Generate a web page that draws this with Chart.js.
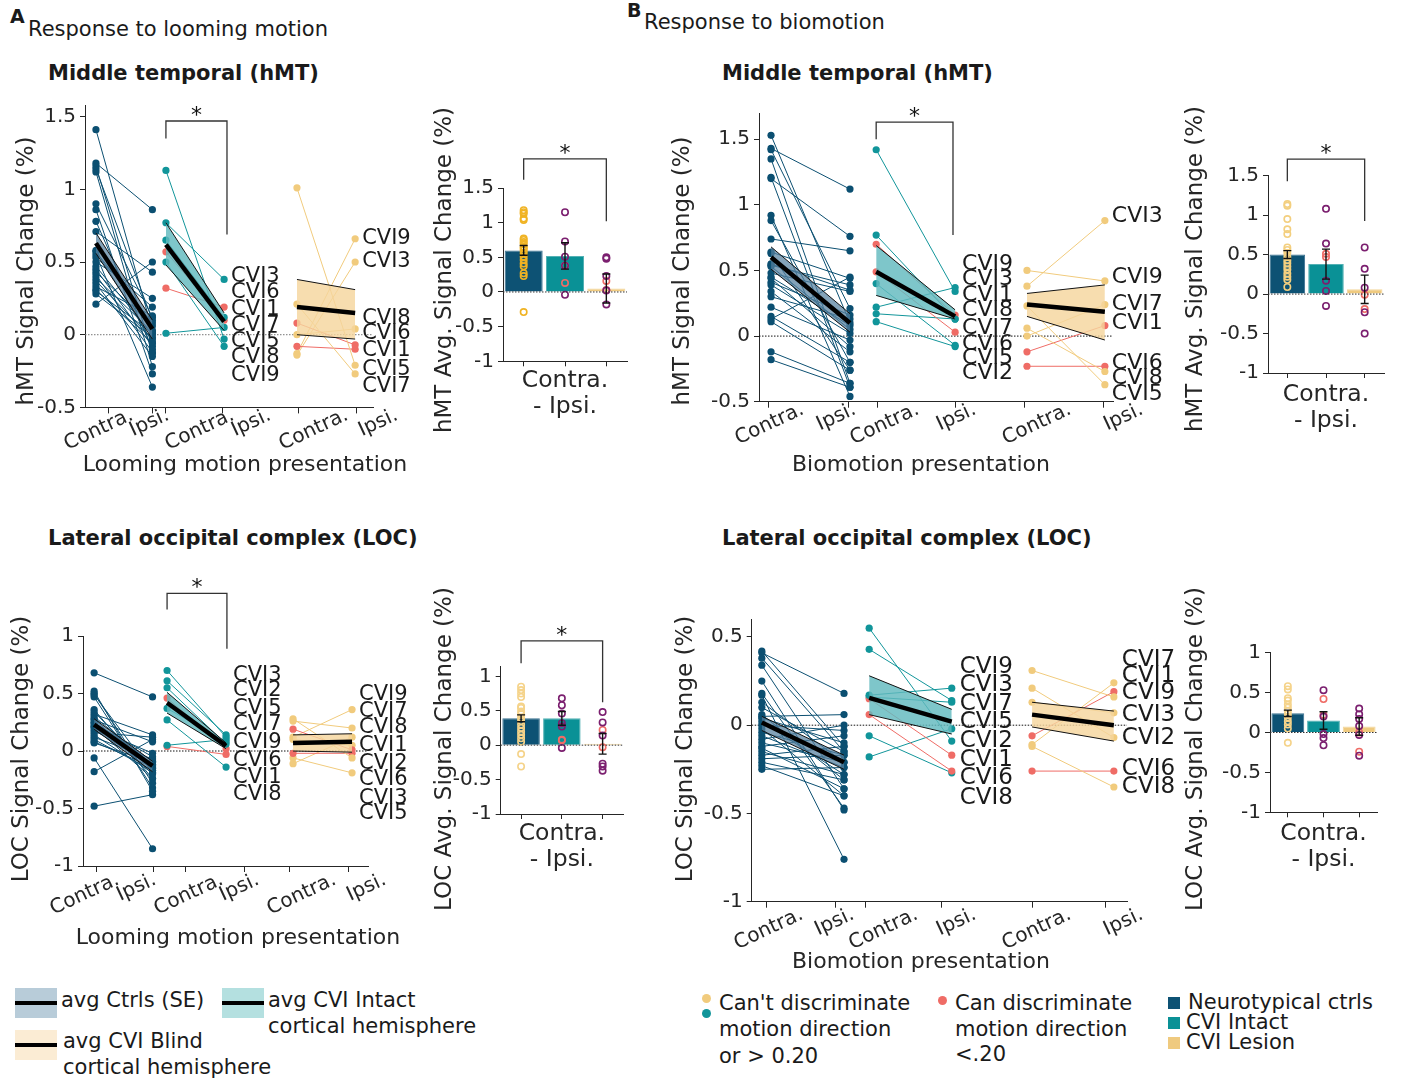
<!DOCTYPE html>
<html>
<head>
<meta charset="utf-8">
<script src="https://cdn.jsdelivr.net/npm/chart.js@4.4.1/dist/chart.umd.min.js"></script>
<style>
  body { margin:0; background:#fff; width:1402px; height:1081px; position:relative; overflow:hidden;
         font-family:'DejaVu Sans', Verdana, sans-serif; color:#1a1a1a; }
  .t { position:absolute; white-space:nowrap; line-height:1.2; transform:translateY(-50%); font-size:21px; }
  .b { font-weight:bold; }
  .sw { position:absolute; width:42px; height:30px; }
  .sw i { position:absolute; left:0; right:0; top:13px; height:4px; background:#000; }
  .dot { position:absolute; width:9px; height:9px; border-radius:50%; }
  .sq { position:absolute; width:12px; height:12px; }
  canvas { position:absolute; }
</style>
</head>
<body>
<div class="t b" style="left:10px;top:16px;font-size:19px">A</div>
<div class="t" style="left:28px;top:30px">Response to looming motion</div>
<div class="t b" style="left:627px;top:10px;font-size:19px">B</div>
<div class="t" style="left:644px;top:23px">Response to biomotion</div>
<div class="t b" style="left:48px;top:74px;font-size:21px">Middle temporal (hMT)</div>
<div class="t b" style="left:722px;top:74px;font-size:21px">Middle temporal (hMT)</div>
<div class="t b" style="left:48px;top:539px;font-size:21px">Lateral occipital complex (LOC)</div>
<div class="t b" style="left:722px;top:539px;font-size:21px">Lateral occipital complex (LOC)</div>

<div class="sw" style="left:15px;top:988px;background:#b8ccd9"><i></i></div>
<div class="t" style="left:61px;top:1001px">avg Ctrls (SE)</div>
<div class="sw" style="left:222px;top:988px;background:#b4e0e0"><i></i></div>
<div class="t" style="left:268px;top:1001px">avg CVI Intact</div>
<div class="t" style="left:268px;top:1027px">cortical hemisphere</div>
<div class="sw" style="left:15px;top:1030px;background:#fbecd4"><i></i></div>
<div class="t" style="left:63px;top:1042px">avg CVI Blind</div>
<div class="t" style="left:63px;top:1068px">cortical hemisphere</div>

<div class="dot" style="left:702px;top:994px;background:#f1cb7d"></div>
<div class="dot" style="left:702px;top:1009px;background:#11959a"></div>
<div class="t" style="left:719px;top:1004px">Can't discriminate</div>
<div class="t" style="left:719px;top:1030px">motion direction</div>
<div class="t" style="left:719px;top:1057px">or &gt; 0.20</div>
<div class="dot" style="left:938px;top:996px;background:#ef6c66"></div>
<div class="t" style="left:955px;top:1004px">Can discriminate</div>
<div class="t" style="left:955px;top:1030px">motion direction</div>
<div class="t" style="left:955px;top:1055px">&lt;.20</div>
<div class="sq" style="left:1168px;top:997px;background:#0d5274"></div>
<div class="t" style="left:1188px;top:1003px">Neurotypical ctrls</div>
<div class="sq" style="left:1168px;top:1017px;background:#0a9196"></div>
<div class="t" style="left:1186px;top:1023px">CVI Intact</div>
<div class="sq" style="left:1168px;top:1037px;background:#efca7f"></div>
<div class="t" style="left:1186px;top:1043px">CVI Lesion</div>

<script>
// ---------- A: looming motion, hMT ----------
var loomHmtCtrlContra = [1.41, 1.18, 1.16, 1.14, 1.12, 0.90, 0.86, 0.78, 0.71, 0.58, 0.57, 0.55, 0.53, 0.50, 0.47, 0.45, 0.43, 0.41, 0.39, 0.37, 0.35, 0.33, 0.31, 0.30, 0.28, 0.21];
var loomHmtCtrlIpsi   = [0.03, 0.86, -0.13, 0.10, -0.22, 0.12, -0.27, -0.10, 0.43, -0.05, 0.08, -0.36, 0.19, 0.25, 0.00, -0.08, 0.06, -0.12, 0.02, -0.03, -0.15, 0.13, -0.06, 0.01, -0.02, 0.50];
var loomHmtCtrlMean = [0.63, 0.04], loomHmtCtrlLo = [0.56, -0.03], loomHmtCtrlHi = [0.70, 0.10];
var loomHmtIntactContra = [1.13, 0.77, 0.65, 0.57, 0.50, 0.32, 0.01];
var loomHmtIntactIpsi   = [-0.03, 0.38, 0.12, 0.10, -0.08, 0.19, 0.05];
var loomHmtIntactDisc   = [0, 0, 0, 1, 0, 1, 0];
var loomHmtIntactMean = [0.62, 0.09], loomHmtIntactLo = [0.48, 0.03], loomHmtIntactHi = [0.77, 0.15];
var loomHmtBlindContra = [1.01, 0.21, 0.08, 0.00, -0.08, -0.13, -0.14];
var loomHmtBlindIpsi   = [-0.21, -0.27, -0.07, 0.04, -0.10, 0.66, 0.50];
var loomHmtBlindDisc   = [0, 0, 1, 0, 1, 0, 0];
var loomHmtBlindMean = [0.19, 0.15], loomHmtBlindLo = [0.00, -0.03], loomHmtBlindHi = [0.38, 0.31];
var loomHmtIntactNames = ['CVI3', 'CVI6', 'CVI1', 'CVI7', 'CVI5', 'CVI8', 'CVI9'];
var loomHmtIntactNameY = [0.40, 0.29, 0.17, 0.06, -0.05, -0.16, -0.28];
var loomHmtBlindNames = ['CVI9', 'CVI3', 'CVI8', 'CVI6', 'CVI1', 'CVI5', 'CVI7'];
var loomHmtBlindNameY = [0.66, 0.50, 0.11, 0.01, -0.11, -0.24, -0.36];

var loomHmtBarMeans = [0.60, 0.52, 0.05];
var loomHmtBarErr = [0.07, 0.19, 0.21];
var loomHmtBarCtrlPts = [1.18, 1.15, 1.13, 1.06, 1.04, 0.77, 0.75, 0.72, 0.70, 0.65, 0.63, 0.60, 0.56, 0.51, 0.46, 0.41, 0.37, 0.27, 0.23, -0.29];
var loomHmtBarIntactPts = [1.15, 0.73, 0.51, 0.38, -0.04];
var loomHmtBarIntactDiscPts = [0.38, 0.13];
var loomHmtBarLesionPts = [0.50, 0.48, 0.23, 0.02, -0.18];
var loomHmtBarLesionDiscPts = [0.16, 0.03];

// ---------- A: looming motion, LOC ----------
var loomLocCtrlContra = [0.68, 0.52, 0.50, 0.49, 0.47, 0.36, 0.34, 0.32, 0.30, 0.28, 0.27, 0.25, 0.24, 0.22, 0.21, 0.20, 0.18, 0.16, 0.14, 0.12, 0.10, 0.08, 0.07, -0.06, -0.18, -0.48];
var loomLocCtrlIpsi   = [0.47, -0.35, -0.28, -0.19, -0.32, -0.24, -0.17, 0.14, -0.12, -0.20, 0.08, -0.09, -0.05, -0.15, -0.24, -0.02, -0.12, 0.12, -0.19, -0.07, -0.17, -0.14, -0.10, -0.85, 0.10, -0.38];
var loomLocCtrlMean = [0.23, -0.13], loomLocCtrlLo = [0.19, -0.18], loomLocCtrlHi = [0.28, -0.09];
var loomLocIntactContra = [0.70, 0.61, 0.55, 0.46, 0.37, 0.27, 0.05, 0.04];
var loomLocIntactIpsi   = [0.12, 0.14, 0.06, 0.02, 0.08, -0.14, 0.10, -0.03];
var loomLocIntactDisc   = [0, 0, 0, 1, 0, 0, 0, 1];
var loomLocIntactMean = [0.42, 0.045], loomLocIntactLo = [0.33, 0.02], loomLocIntactHi = [0.51, 0.07];
var loomLocBlindContra = [0.28, 0.26, 0.19, 0.12, -0.02, -0.06, -0.11, 0.10];
var loomLocBlindIpsi   = [-0.06, 0.20, 0.01, 0.36, -0.02, -0.19, 0.12, 0.05];
var loomLocBlindDisc   = [0, 0, 1, 0, 1, 0, 0, 0];
var loomLocBlindMean = [0.07, 0.08], loomLocBlindLo = [0.00, -0.01], loomLocBlindHi = [0.14, 0.15];
var loomLocIntactNames = ['CVI3', 'CVI2', 'CVI5', 'CVI7', 'CVI9', 'CVI6', 'CVI1', 'CVI8'];
var loomLocIntactNameY = [0.66, 0.53, 0.37, 0.23, 0.07, -0.08, -0.23, -0.38];
var loomLocBlindNames = ['CVI9', 'CVI7', 'CVI8', 'CVI1', 'CVI2', 'CVI6', 'CVI3', 'CVI5'];
var loomLocBlindNameY = [0.49, 0.34, 0.20, 0.05, -0.11, -0.25, -0.41, -0.54];

var loomLocBarMeans = [0.39, 0.39, 0.02];
var loomLocBarErr = [0.05, 0.10, 0.15];
var loomLocBarCtrlPts = [0.85, 0.80, 0.75, 0.70, 0.56, 0.54, 0.49, 0.45, 0.40, 0.35, 0.30, 0.25, 0.20, 0.15, 0.10, 0.05, -0.13, -0.31];
var loomLocBarIntactPts = [0.68, 0.58, 0.46, 0.32, 0.27, -0.04];
var loomLocBarIntactDiscPts = [0.08, 0.07];
var loomLocBarLesionPts = [0.48, 0.33, 0.14, -0.27, -0.31, -0.37];
var loomLocBarLesionDiscPts = [0.22, -0.03];

// ---------- B: biomotion, hMT ----------
var bioHmtCtrlContra = [1.53, 1.43, 1.42, 1.35, 1.21, 1.20, 0.92, 0.88, 0.74, 0.64, 0.63, 0.55, 0.54, 0.53, 0.48, 0.44, 0.41, 0.39, 0.34, 0.30, 0.22, 0.15, 0.11, -0.12, -0.18, 0.13, 0.45];
var bioHmtCtrlIpsi   = [0.10, 1.12, 0.21, -0.36, -0.39, 0.76, -0.46, -0.20, 0.65, 0.44, -0.26, 0.35, 0.39, 0.05, 0.34, -0.08, 0.16, 0.02, -0.12, 0.13, -0.03, -0.20, -0.26, -0.36, -0.39, 0.45, 0.08];
var bioHmtCtrlMean = [0.60, 0.10], bioHmtCtrlLo = [0.51, 0.03], bioHmtCtrlHi = [0.68, 0.17];
var bioHmtIntactContra = [1.42, 0.77, 0.70, 0.49, 0.40, 0.22, 0.17, 0.11];
var bioHmtIntactIpsi   = [0.34, 0.13, 0.16, 0.03, -0.07, 0.37, 0.13, -0.08];
var bioHmtIntactDisc   = [0, 0, 1, 1, 0, 0, 0, 0];
var bioHmtIntactMean = [0.49, 0.15], bioHmtIntactLo = [0.31, 0.13], bioHmtIntactHi = [0.69, 0.20];
var bioHmtBlindContra = [0.50, 0.38, 0.23, 0.06, 0.00, -0.12, -0.23];
var bioHmtBlindIpsi   = [0.42, 0.88, -0.37, -0.27, 0.24, 0.08, -0.23];
var bioHmtBlindDisc   = [0, 0, 0, 0, 0, 1, 1];
var bioHmtBlindMean = [0.24, 0.185], bioHmtBlindLo = [0.15, -0.03], bioHmtBlindHi = [0.325, 0.39];
var bioHmtIntactNames = ['CVI9', 'CVI3', 'CVI1', 'CVI8', 'CVI7', 'CVI6', 'CVI5', 'CVI2'];
var bioHmtIntactNameY = [0.55, 0.43, 0.31, 0.20, 0.06, -0.06, -0.17, -0.28];
var bioHmtBlindNames = ['CVI3', 'CVI9', 'CVI7', 'CVI1', 'CVI6', 'CVI8', 'CVI5'];
var bioHmtBlindNameY = [0.91, 0.45, 0.24, 0.10, -0.21, -0.32, -0.44];

var bioHmtBarMeans = [0.50, 0.38, 0.06];
var bioHmtBarErr = [0.05, 0.19, 0.18];
var bioHmtBarCtrlPts = [1.14, 1.12, 0.95, 0.82, 0.76, 0.59, 0.56, 0.52, 0.47, 0.43, 0.39, 0.35, 0.31, 0.26, 0.22, 0.18, 0.09];
var bioHmtBarIntactPts = [1.08, 0.64, 0.17, 0.04, -0.15];
var bioHmtBarIntactDiscPts = [0.51, 0.47];
var bioHmtBarLesionPts = [0.59, 0.32, 0.08, -0.23, -0.50];
var bioHmtBarLesionDiscPts = [-0.01, -0.19];

// ---------- B: biomotion, LOC ----------
var bioLocCtrlContra = [0.42, 0.41, 0.38, 0.34, 0.25, 0.18, 0.17, 0.13, 0.06, 0.05, 0.02, 0.00, -0.02, -0.04, -0.06, -0.08, -0.10, -0.12, -0.13, -0.15, -0.17, -0.19, -0.21, -0.23, -0.25, 0.10, 0.04];
var bioLocCtrlIpsi   = [-0.12, 0.18, -0.15, -0.36, -0.48, -0.47, -0.76, -0.21, -0.31, 0.06, -0.28, -0.03, -0.40, -0.17, -0.24, 0.00, -0.21, -0.06, -0.36, -0.28, -0.12, -0.17, -0.31, -0.40, -0.24, -0.15, -0.10];
var bioLocCtrlMean = [0.015, -0.21], bioLocCtrlLo = [-0.03, -0.25], bioLocCtrlHi = [0.05, -0.17];
var bioLocIntactContra = [0.55, 0.43, 0.17, 0.15, 0.06, -0.06, -0.18, 0.16];
var bioLocIntactIpsi   = [-0.09, 0.14, 0.21, -0.17, -0.26, -0.27, -0.02, 0.13];
var bioLocIntactDisc   = [0, 0, 0, 1, 1, 0, 0, 0];
var bioLocIntactMean = [0.155, 0.02], bioLocIntactLo = [0.06, -0.05], bioLocIntactHi = [0.28, 0.09];
var bioLocBlindContra = [0.31, 0.21, 0.13, -0.06, -0.11, -0.12, -0.26];
var bioLocBlindIpsi   = [0.16, -0.07, 0.07, 0.19, 0.24, -0.35, -0.26];
var bioLocBlindDisc   = [0, 0, 0, 1, 0, 0, 1];
var bioLocBlindMean = [0.06, 0.00], bioLocBlindLo = [-0.01, -0.09], bioLocBlindHi = [0.13, 0.08];
var bioLocIntactNames = ['CVI9', 'CVI3', 'CVI7', 'CVI5', 'CVI2', 'CVI1', 'CVI6', 'CVI8'];
var bioLocIntactNameY = [0.33, 0.23, 0.12, 0.02, -0.09, -0.20, -0.30, -0.41];
var bioLocBlindNames = ['CVI7', 'CVI1', 'CVI9', 'CVI3', 'CVI2', 'CVI6', 'CVI8'];
var bioLocBlindNameY = [0.37, 0.28, 0.18, 0.06, -0.07, -0.25, -0.35];

var bioLocBarMeans = [0.24, 0.15, 0.075];
var bioLocBarErr = [0.04, 0.11, 0.11];
var bioLocBarCtrlPts = [0.58, 0.54, 0.43, 0.40, 0.35, 0.31, 0.27, 0.23, 0.19, 0.14, 0.10, 0.05, -0.13];
var bioLocBarIntactPts = [0.53, 0.20, -0.02, -0.07, -0.16];
var bioLocBarIntactDiscPts = [0.42, 0.22];
var bioLocBarLesionPts = [0.30, 0.23, 0.17, 0.08, -0.03, -0.29];
var bioLocBarLesionDiscPts = [0.00, -0.24];

// x axes run 0..10; tick marks and label anchors (right end of rotated label)
var tickLabels = ['Contra.', 'Ipsi.', 'Contra.', 'Ipsi.', 'Contra.', 'Ipsi.'];
var barGroups = ['Ctrl', 'Intact', 'Lesion'];

var C_CTRL = '#0b4f71', C_INT = '#11959a', C_BLIND = '#f1cb7d', C_DISC = '#ef6c66';
var C_PURPLE = '#7b1f6f';
var AX = '#262626';
var FONT = "'DejaVu Sans', Verdana, sans-serif";

Chart.defaults.font.family = FONT;
Chart.defaults.color = AX;
Chart.defaults.animation = false;
Chart.defaults.plugins.legend.display = false;
Chart.defaults.plugins.tooltip.enabled = false;

function makeCanvas(box) {
  var c = document.createElement('canvas');
  c.width = box.cr - box.cl;
  c.height = box.cb + (box.eb || 0) - box.ct;
  c.style.left = box.cl + 'px';
  c.style.top = box.ct + 'px';
  c.style.width = c.width + 'px';
  c.style.height = c.height + 'px';
  document.body.appendChild(c);
  return c;
}

function drawBracket(ctx, xs, ys, b) {
  var x1 = xs.getPixelForValue(b.x1), x2 = xs.getPixelForValue(b.x2), yt = ys.getPixelForValue(b.top);
  ctx.save();
  ctx.strokeStyle = '#333';
  ctx.lineWidth = 1.3;
  ctx.setLineDash([]);
  ctx.beginPath();
  ctx.moveTo(x1, ys.getPixelForValue(b.y1));
  ctx.lineTo(x1, yt);
  ctx.lineTo(x2, yt);
  ctx.lineTo(x2, ys.getPixelForValue(b.y2));
  ctx.stroke();
  ctx.font = '22px ' + FONT;
  ctx.textAlign = 'center';
  ctx.textBaseline = 'middle';
  ctx.fillStyle = '#111';
  ctx.fillText('*', (x1 + x2) / 2, yt - 5);
  ctx.restore();
}

function zeroLine(chart, color) {
  var ctx = chart.ctx, a = chart.chartArea, y0 = chart.scales.y.getPixelForValue(0);
  ctx.save();
  ctx.strokeStyle = color;
  ctx.lineWidth = 1;
  ctx.setLineDash([1.5, 1.5]);
  ctx.beginPath();
  ctx.moveTo(a.left, y0);
  ctx.lineTo(a.right, y0);
  ctx.stroke();
  ctx.restore();
}

// axis titles, centred where the figure has them
function drawTitles(chart, box, cfg) {
  var ctx = chart.ctx;
  ctx.save();
  ctx.fillStyle = AX;
  ctx.textAlign = 'center';
  ctx.textBaseline = 'middle';
  if (box.xt) {
    ctx.font = '22px ' + FONT;
    ctx.fillText(cfg.xTitle, box.xt[0] - box.cl, box.xt[1] - box.ct);
  }
  ctx.font = '23px ' + FONT;
  ctx.translate(box.yt[0] - box.cl, box.yt[1] - box.ct);
  ctx.rotate(-Math.PI / 2);
  ctx.fillText(cfg.yTitle, 0, 0);
  ctx.restore();
}

function layoutPad(box) {
  return {left: 0, top: box.t - box.ct, right: box.cr - box.r, bottom: box.eb || 0};
}

function yAxis(box, cfg) {
  return {
    min: cfg.yMin, max: cfg.yMax,
    afterBuildTicks: function(s) { s.ticks = cfg.yTicks.map(function(v) { return {value: v}; }); },
    ticks: {font: {size: 20}, padding: 4, color: AX, callback: function(v) { return String(v); }},
    grid: {drawOnChartArea: false, tickLength: 5, color: AX},
    border: {color: AX, width: 1},
    afterFit: function(s) { s.width = box.l - box.cl; s.paddingTop = 0; s.paddingBottom = 0; }
  };
}

function slopeChart(box, cfg) {
  var ds = [];
  cfg.groups.forEach(function(g) {
    g.contra.forEach(function(v, i) {
      var c = (g.disc && g.disc[i]) ? C_DISC : g.color;
      ds.push({data: [{x: g.x[0], y: v}, {x: g.x[1], y: g.ipsi[i]}],
        borderColor: c, backgroundColor: c, pointBackgroundColor: c, pointBorderWidth: 0,
        borderWidth: 1, pointRadius: 3.6, order: 3});
    });
  });
  cfg.groups.forEach(function(g) {
    ds.push({data: [{x: g.x[0], y: g.hi[0]}, {x: g.x[1], y: g.hi[1]}],
      borderColor: '#111', borderWidth: 1, pointRadius: 0, fill: false, order: 2});
    ds.push({data: [{x: g.x[0], y: g.lo[0]}, {x: g.x[1], y: g.lo[1]}],
      borderColor: '#111', borderWidth: 1, pointRadius: 0, fill: '-1', backgroundColor: g.band, order: 2});
    ds.push({data: [{x: g.x[0], y: g.mean[0]}, {x: g.x[1], y: g.mean[1]}],
      borderColor: '#000', borderWidth: 4.5, pointRadius: 0, fill: false, order: 1});
  });

  var decor = {
    id: 'slopeDecor',
    beforeDatasetsDraw: function(chart) { zeroLine(chart, cfg.zeroColor); },
    afterDatasetsDraw: function(chart) {
      var ctx = chart.ctx, xs = chart.scales.x, ys = chart.scales.y;
      ctx.save();
      ctx.font = cfg.labelSize + 'px ' + FONT;
      ctx.fillStyle = '#1a1a1a';
      ctx.textBaseline = 'middle';
      ctx.textAlign = 'left';
      cfg.groups.forEach(function(g) {
        if (!g.names) return;
        var px = xs.getPixelForValue(g.x[1]) + cfg.labelDx;
        g.names.forEach(function(n, i) { ctx.fillText(n, px, ys.getPixelForValue(g.nameY[i])); });
      });
      ctx.restore();
      if (cfg.bracket) drawBracket(ctx, xs, ys, cfg.bracket);
    },
    afterDraw: function(chart) { drawTitles(chart, box, cfg); }
  };

  return new Chart(makeCanvas(box), {
    type: 'line',
    data: {datasets: ds},
    plugins: [decor],
    options: {
      responsive: false,
      layout: {padding: layoutPad(box)},
      elements: {line: {tension: 0}},
      scales: {
        // tick marks
        x: {
          type: 'linear', min: 0, max: 10, weight: 0,
          afterBuildTicks: function(s) { s.ticks = cfg.tickX.map(function(v) { return {value: v}; }); },
          ticks: {display: false},
          grid: {drawOnChartArea: false, tickLength: 6, color: AX},
          border: {color: AX, width: 1},
          afterFit: function(s) { s.height = 0; s.paddingLeft = 0; s.paddingRight = 0; }
        },
        // rotated tick labels
        xl: {
          type: 'linear', position: 'bottom', min: 0, max: 10, weight: 1,
          afterBuildTicks: function(s) { s.ticks = cfg.labelX.map(function(v) { return {value: v}; }); },
          ticks: {autoSkip: false, minRotation: 25, maxRotation: 25, padding: cfg.labelPad,
                  font: {size: 20}, color: AX, callback: function(v, i) { return tickLabels[i]; }},
          grid: {display: false},
          border: {display: false},
          afterFit: function(s) { s.height = box.cb - box.b; s.paddingLeft = 0; s.paddingRight = 0; }
        },
        y: yAxis(box, cfg)
      }
    }
  });
}

function barChart(box, cfg) {
  var pts = function(vals, grp, color) {
    return {type: 'line', data: vals.map(function(v) { return {x: grp, y: v}; }), showLine: false,
      pointRadius: 3.2, pointBorderWidth: 1.6, pointBackgroundColor: 'rgba(0,0,0,0)',
      pointBorderColor: color, order: 1};
  };
  var ds = [
    {type: 'bar', data: cfg.means, backgroundColor: ['#0d5274', '#0a9196', '#efca7f'],
     borderColor: ['#3b7190', '#53b1b4', '#f3d79c'], borderWidth: 1,
     barPercentage: 0.92, categoryPercentage: 1, order: 3},
    pts(cfg.ctrlPts, 'Ctrl', cfg.ctrlColor),
    pts(cfg.intactPts, 'Intact', C_PURPLE),
    pts(cfg.lesionPts, 'Lesion', C_PURPLE),
    pts(cfg.intactDiscPts, 'Intact', C_DISC),
    pts(cfg.lesionDiscPts, 'Lesion', C_DISC)
  ];
  var decor = {
    id: 'barDecor',
    afterDatasetsDraw: function(chart) {
      var ctx = chart.ctx, xs = chart.scales.x, ys = chart.scales.y;
      zeroLine(chart, '#333');
      ctx.save();
      ctx.strokeStyle = '#111';
      ctx.lineWidth = 1.4;
      cfg.means.forEach(function(m, i) {
        var x = xs.getPixelForValue(i), yh = ys.getPixelForValue(m + cfg.err[i]), yl = ys.getPixelForValue(m - cfg.err[i]);
        ctx.beginPath();
        ctx.moveTo(x, yh); ctx.lineTo(x, yl);
        ctx.moveTo(x - 4, yh); ctx.lineTo(x + 4, yh);
        ctx.moveTo(x - 4, yl); ctx.lineTo(x + 4, yl);
        ctx.stroke();
      });
      ctx.restore();
      if (cfg.bracket) drawBracket(ctx, xs, ys, cfg.bracket);
    },
    afterDraw: function(chart) { drawTitles(chart, box, cfg); }
  };
  return new Chart(makeCanvas(box), {
    type: 'bar',
    data: {labels: barGroups, datasets: ds},
    plugins: [decor],
    options: {
      responsive: false,
      layout: {padding: layoutPad(box)},
      scales: {
        x: {
          type: 'category', offset: true,
          ticks: {display: false},
          grid: {offset: false, drawOnChartArea: false, tickLength: 5, color: AX},
          border: {color: AX, width: 1},
          title: {display: true, text: ['Contra.', '- Ipsi.'], font: {size: 23.5, lineHeight: 1.106}, padding: 0, color: AX},
          afterFit: function(s) { s.height = box.cb - box.b; s.paddingLeft = 0; s.paddingRight = 0; }
        },
        y: yAxis(box, cfg)
      }
    }
  });
}

var BAND_CTRL = 'rgba(84,128,158,0.72)', BAND_INT = 'rgba(98,186,190,0.82)', BAND_BLIND = 'rgba(245,214,158,0.82)';

// ---- panel A, hMT ----
slopeChart({l: 85, t: 105, r: 373, b: 407.4, cl: 15, ct: 95, cr: 420, cb: 477, xt: [245, 465], yt: [27, 271]}, {
  yMin: -0.5, yMax: 1.58, yTicks: [-0.5, 0, 0.5, 1, 1.5],
  tickX: [0.80, 2.33, 2.81, 4.79, 7.40, 9.41],
  labelX: [1.63, 2.88, 5.14, 6.42, 9.10, 10.83], labelPad: -12,
  xTitle: 'Looming motion presentation', yTitle: 'hMT Signal Change (%)',
  zeroColor: '#777', labelSize: 21, labelDx: 7,
  bracket: {x1: 2.81, x2: 4.93, top: 1.47, y1: 1.35, y2: 0.69},
  groups: [
    {x: [0.38, 2.34], contra: loomHmtCtrlContra, ipsi: loomHmtCtrlIpsi, color: C_CTRL, band: BAND_CTRL,
     mean: loomHmtCtrlMean, lo: loomHmtCtrlLo, hi: loomHmtCtrlHi},
    {x: [2.81, 4.83], contra: loomHmtIntactContra, ipsi: loomHmtIntactIpsi, disc: loomHmtIntactDisc, color: C_INT, band: BAND_INT,
     mean: loomHmtIntactMean, lo: loomHmtIntactLo, hi: loomHmtIntactHi, names: loomHmtIntactNames, nameY: loomHmtIntactNameY},
    {x: [7.36, 9.38], contra: loomHmtBlindContra, ipsi: loomHmtBlindIpsi, disc: loomHmtBlindDisc, color: C_BLIND, band: BAND_BLIND,
     mean: loomHmtBlindMean, lo: loomHmtBlindLo, hi: loomHmtBlindHi, names: loomHmtBlindNames, nameY: loomHmtBlindNameY}
  ]
});
barChart({l: 503, t: 188, r: 627, b: 361.3, cl: 433, ct: 100, cr: 640, cb: 420, eb: 20, yt: [445, 270]}, {
  yMin: -1, yMax: 1.5, yTicks: [-1, -0.5, 0, 0.5, 1, 1.5], yTitle: 'hMT Avg. Signal Change (%)',
  means: loomHmtBarMeans, err: loomHmtBarErr, ctrlPts: loomHmtBarCtrlPts, ctrlColor: '#f0b323',
  intactPts: loomHmtBarIntactPts, intactDiscPts: loomHmtBarIntactDiscPts,
  lesionPts: loomHmtBarLesionPts, lesionDiscPts: loomHmtBarLesionDiscPts,
  bracket: {x1: 0, x2: 2, top: 1.92, y1: 1.62, y2: 1.02}
});

// ---- panel B, hMT ----
slopeChart({l: 759, t: 113, r: 1113, b: 401.7, cl: 671, ct: 95, cr: 1180, cb: 477, xt: [921, 465], yt: [683, 271]}, {
  yMin: -0.5, yMax: 1.70, yTicks: [-0.5, 0, 0.5, 1, 1.5],
  tickX: [0.28, 2.54, 3.36, 5.56, 7.49, 9.72],
  labelX: [1.24, 2.71, 4.49, 6.10, 8.79, 10.82], labelPad: -12,
  xTitle: 'Biomotion presentation', yTitle: 'hMT Signal Change (%)',
  zeroColor: '#111', labelSize: 22, labelDx: 7,
  bracket: {x1: 3.31, x2: 5.48, top: 1.63, y1: 1.50, y2: 0.77},
  groups: [
    {x: [0.34, 2.57], contra: bioHmtCtrlContra, ipsi: bioHmtCtrlIpsi, color: C_CTRL, band: BAND_CTRL,
     mean: bioHmtCtrlMean, lo: bioHmtCtrlLo, hi: bioHmtCtrlHi},
    {x: [3.31, 5.54], contra: bioHmtIntactContra, ipsi: bioHmtIntactIpsi, disc: bioHmtIntactDisc, color: C_INT, band: BAND_INT,
     mean: bioHmtIntactMean, lo: bioHmtIntactLo, hi: bioHmtIntactHi, names: bioHmtIntactNames, nameY: bioHmtIntactNameY},
    {x: [7.57, 9.77], contra: bioHmtBlindContra, ipsi: bioHmtBlindIpsi, disc: bioHmtBlindDisc, color: C_BLIND, band: BAND_BLIND,
     mean: bioHmtBlindMean, lo: bioHmtBlindLo, hi: bioHmtBlindHi, names: bioHmtBlindNames, nameY: bioHmtBlindNameY}
  ]
});
barChart({l: 1268, t: 175.7, r: 1384, b: 373, cl: 1182, ct: 100, cr: 1400, cb: 434, eb: 10, yt: [1196, 269]}, {
  yMin: -1, yMax: 1.5, yTicks: [-1, -0.5, 0, 0.5, 1, 1.5], yTitle: 'hMT Avg. Signal Change (%)',
  means: bioHmtBarMeans, err: bioHmtBarErr, ctrlPts: bioHmtBarCtrlPts, ctrlColor: '#f3cf7f',
  intactPts: bioHmtBarIntactPts, intactDiscPts: bioHmtBarIntactDiscPts,
  lesionPts: bioHmtBarLesionPts, lesionDiscPts: bioHmtBarLesionDiscPts,
  bracket: {x1: 0, x2: 2, top: 1.71, y1: 1.43, y2: 0.925}
});

// ---- panel A, LOC ----
slopeChart({l: 83, t: 636, r: 368, b: 866, cl: 8, ct: 565, cr: 420, cb: 950, xt: [238, 938], yt: [22, 749]}, {
  yMin: -1, yMax: 1, yTicks: [-1, -0.5, 0, 0.5, 1],
  tickX: [0.46, 2.46, 3.58, 5.65, 7.23, 9.30],
  labelX: [1.23, 2.53, 4.88, 6.14, 8.84, 10.60], labelPad: -6,
  xTitle: 'Looming motion presentation', yTitle: 'LOC Signal Change (%)',
  zeroColor: '#111', labelSize: 21, labelDx: 7,
  bracket: {x1: 2.95, x2: 5.05, top: 1.37, y1: 1.23, y2: 0.89},
  groups: [
    {x: [0.39, 2.44], contra: loomLocCtrlContra, ipsi: loomLocCtrlIpsi, color: C_CTRL, band: BAND_CTRL,
     mean: loomLocCtrlMean, lo: loomLocCtrlLo, hi: loomLocCtrlHi},
    {x: [2.95, 5.02], contra: loomLocIntactContra, ipsi: loomLocIntactIpsi, disc: loomLocIntactDisc, color: C_INT, band: BAND_INT,
     mean: loomLocIntactMean, lo: loomLocIntactLo, hi: loomLocIntactHi, names: loomLocIntactNames, nameY: loomLocIntactNameY},
    {x: [7.37, 9.44], contra: loomLocBlindContra, ipsi: loomLocBlindIpsi, disc: loomLocBlindDisc, color: C_BLIND, band: BAND_BLIND,
     mean: loomLocBlindMean, lo: loomLocBlindLo, hi: loomLocBlindHi, names: loomLocBlindNames, nameY: loomLocBlindNameY}
  ]
});
barChart({l: 500.7, t: 666, r: 623, b: 814, cl: 431, ct: 570, cr: 640, cb: 873, eb: 50, yt: [445, 749]}, {
  yMin: -1, yMax: 1.15, yTicks: [-1, -0.5, 0, 0.5, 1], yTitle: 'LOC Avg. Signal Change (%)',
  means: loomLocBarMeans, err: loomLocBarErr, ctrlPts: loomLocBarCtrlPts, ctrlColor: '#f5d38a',
  intactPts: loomLocBarIntactPts, intactDiscPts: loomLocBarIntactDiscPts,
  lesionPts: loomLocBarLesionPts, lesionDiscPts: loomLocBarLesionDiscPts,
  bracket: {x1: 0, x2: 2, top: 1.515, y1: 1.19, y2: 0.625}
});

// ---- panel B, LOC ----
slopeChart({l: 751.7, t: 619.3, r: 1127, b: 901.7, cl: 672, ct: 600, cr: 1190, cb: 974, xt: [921, 962], yt: [686, 749]}, {
  yMin: -1, yMax: 0.6, yTicks: [-1, -0.5, 0, 0.5],
  tickX: [0.40, 2.24, 3.02, 5.06, 7.47, 9.44],
  labelX: [1.34, 2.70, 4.40, 5.95, 8.48, 10.40], labelPad: -7,
  xTitle: 'Biomotion presentation', yTitle: 'LOC Signal Change (%)',
  zeroColor: '#111', labelSize: 23, labelDx: 8,
  groups: [
    {x: [0.27, 2.46], contra: bioLocCtrlContra, ipsi: bioLocCtrlIpsi, color: C_CTRL, band: BAND_CTRL,
     mean: bioLocCtrlMean, lo: bioLocCtrlLo, hi: bioLocCtrlHi},
    {x: [3.13, 5.33], contra: bioLocIntactContra, ipsi: bioLocIntactIpsi, disc: bioLocIntactDisc, color: C_INT, band: BAND_INT,
     mean: bioLocIntactMean, lo: bioLocIntactLo, hi: bioLocIntactHi, names: bioLocIntactNames, nameY: bioLocIntactNameY},
    {x: [7.47, 9.65], contra: bioLocBlindContra, ipsi: bioLocBlindIpsi, disc: bioLocBlindDisc, color: C_BLIND, band: BAND_BLIND,
     mean: bioLocBlindMean, lo: bioLocBlindLo, hi: bioLocBlindHi, names: bioLocBlindNames, nameY: bioLocBlindNameY}
  ]
});
barChart({l: 1270, t: 652.7, r: 1377, b: 812.3, cl: 1182, ct: 560, cr: 1400, cb: 873, eb: 50, yt: [1196, 749]}, {
  yMin: -1, yMax: 1, yTicks: [-1, -0.5, 0, 0.5, 1], yTitle: 'LOC Avg. Signal Change (%)',
  means: bioLocBarMeans, err: bioLocBarErr, ctrlPts: bioLocBarCtrlPts, ctrlColor: '#f5d38a',
  intactPts: bioLocBarIntactPts, intactDiscPts: bioLocBarIntactDiscPts,
  lesionPts: bioLocBarLesionPts, lesionDiscPts: bioLocBarLesionDiscPts
});
</script>
</body>
</html>
